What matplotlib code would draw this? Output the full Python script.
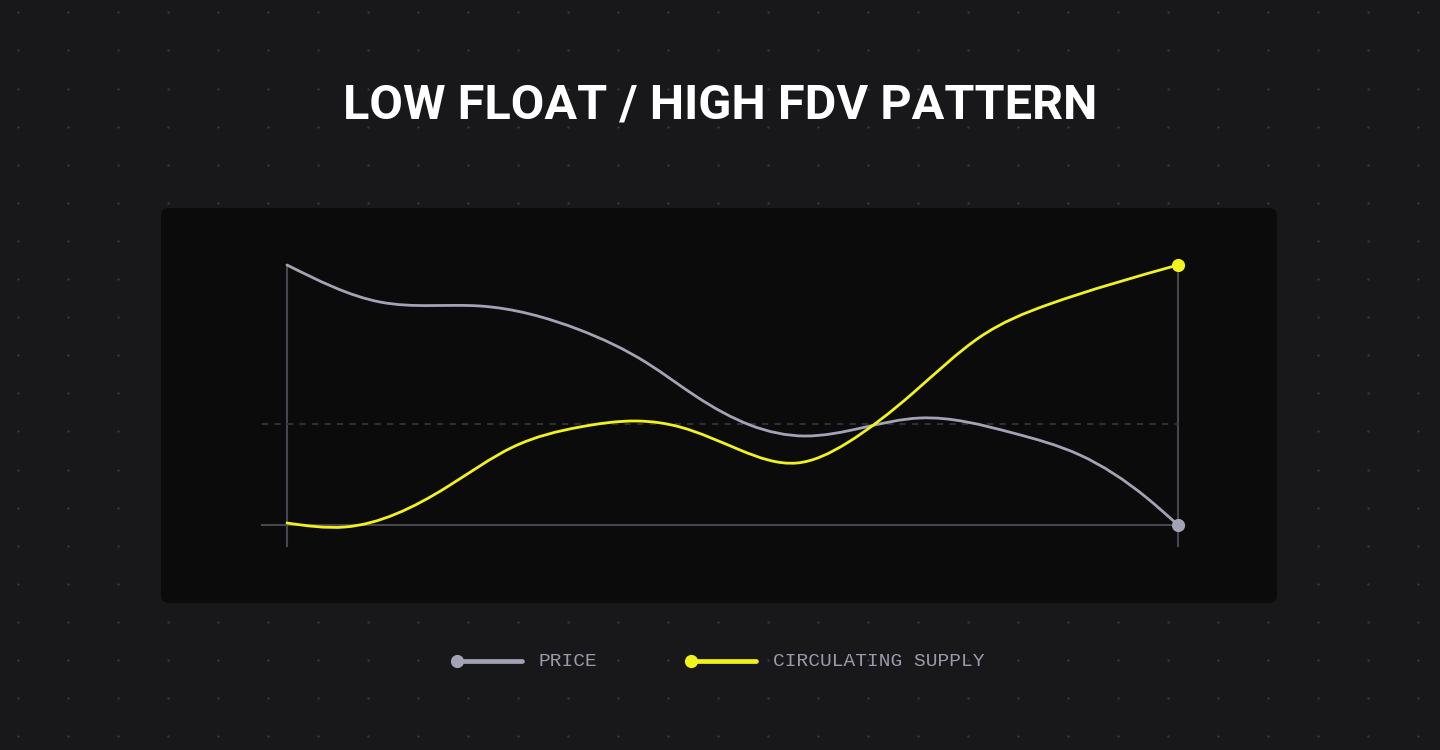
import numpy as np
import matplotlib
matplotlib.use("Agg")
import matplotlib.pyplot as plt
from matplotlib.path import Path
from matplotlib.patches import PathPatch, FancyBboxPatch

# ---------------- data ----------------
title = "LOW FLOAT / HIGH FDV PATTERN"
series_names = ["PRICE", "CIRCULATING SUPPLY"]

price_x = [0, 10.44, 21.66, 32.88, 40.40, 46.02, 51.96, 58.14, 71.04, 81.48, 88.99, 96.52, 100]
price_y = [100, 85.77, 84.23, 75.0, 62.31, 49.23, 38.46, 34.23, 41.15, 35.38, 26.92, 10.38, 0]

supply_x = [0, 6.51, 17.96, 25.36, 32.88, 39.28, 44.11, 50.84, 57.24, 62.85, 70.26, 77.78, 85.30, 100]
supply_y = [0.77, -0.77, 14.62, 30.0, 37.69, 40.0, 37.69, 28.85, 23.85, 31.54, 50.77, 72.31, 84.62, 100]

midline_y = 38.8

# ---------------- style ----------------
BG = "#18181b"
PANEL = "#0b0b0c"
DOT = "#36363c"
AXIS = "#46464f"
PRICE_C = "#a3a3b6"
SUPPLY_C = "#f2f21c"
TEXT_C = "#9a9aaa"

W, H = 1440, 750
fig = plt.figure(figsize=(W / 100, H / 100), dpi=100)
fig.patch.set_facecolor(BG)

# background / decoration axes in pixel coordinates
bg = fig.add_axes([0, 0, 1, 1])
bg.set_xlim(0, W)
bg.set_ylim(H, 0)
bg.axis("off")

dx = np.arange(18.3, W, 50.0)
dy = np.arange(12.3, H, 38.1)
gx, gy = np.meshgrid(dx, dy)
bg.scatter(gx.ravel(), gy.ravel(), s=3.0, color=DOT, linewidths=0, zorder=1)

panel = FancyBboxPatch((161 + 8, 208 + 8), 1277 - 161 - 16, 603 - 208 - 16,
                       boxstyle="round,pad=8", facecolor=PANEL, edgecolor="none", zorder=2)
bg.add_patch(panel)

bg.text(720, 106, title, ha="center", va="center", color="white",
        fontsize=35, fontweight="bold", family=["Roboto", "DejaVu Sans"], zorder=3)

# legend
legend_items = [(457, 522, 539, PRICE_C, series_names[0]),
                (691, 756, 773, SUPPLY_C, series_names[1])]
for x0, x1, tx, c, name in legend_items:
    bg.plot([x0, x1], [661, 661], color=c, lw=3.4, solid_capstyle="round", zorder=3)
    bg.plot([x0], [661], "o", color=c, markersize=9.5, markeredgewidth=0, zorder=4)
    bg.text(tx, 662, name, ha="left", va="center", color=TEXT_C, fontsize=14,
            family=["Liberation Mono", "DejaVu Sans Mono"], zorder=3)

# chart axes in data coordinates
L, R, T, B = 287, 1178, 265, 525
ax = fig.add_axes([L / W, 1 - B / H, (R - L) / W, (B - T) / H])
ax.set_xlim(0, 100)
ax.set_ylim(0, 100)
ax.axis("off")
ax.patch.set_alpha(0)

x_ext = (262 - L) / (R - L) * 100
y_ext = (B - 546) / (B - T) * 100
ax.plot([0, 0], [y_ext, 100], color=AXIS, lw=1.5, clip_on=False, zorder=1)
ax.plot([100, 100], [y_ext, 100], color=AXIS, lw=1.5, clip_on=False, zorder=1)
ax.plot([x_ext, 100], [0, 0], color=AXIS, lw=1.5, clip_on=False, zorder=1)
ax.plot([x_ext, 100], [midline_y, midline_y], color="#2e2e34", lw=1.5,
        linestyle=(0, (3, 3)), clip_on=False, zorder=1)


def natural_spline_path(xs, ys):
    """Natural cubic spline through the points, expressed as Bezier segments."""
    x = np.asarray(xs, float)
    y = np.asarray(ys, float)
    n = len(x)
    h = np.diff(x)
    s = np.diff(y) / h
    A = np.zeros((n, n))
    rhs = np.zeros(n)
    A[0, 0] = A[-1, -1] = 1.0
    for i in range(1, n - 1):
        A[i, i - 1] = h[i - 1]
        A[i, i] = 2 * (h[i - 1] + h[i])
        A[i, i + 1] = h[i]
        rhs[i] = 6 * (s[i] - s[i - 1])
    M = np.linalg.solve(A, rhs)
    verts = [(x[0], y[0])]
    codes = [Path.MOVETO]
    for i in range(n - 1):
        d0 = s[i] - h[i] * (2 * M[i] + M[i + 1]) / 6
        d1 = s[i] + h[i] * (M[i] + 2 * M[i + 1]) / 6
        k = h[i] / 3
        verts += [(x[i] + k, y[i] + d0 * k), (x[i + 1] - k, y[i + 1] - d1 * k), (x[i + 1], y[i + 1])]
        codes += [Path.CURVE4] * 3
    return Path(verts, codes)


for xs, ys, c, lw in [(price_x, price_y, PRICE_C, 2.0), (supply_x, supply_y, SUPPLY_C, 2.0)]:
    ax.add_patch(PathPatch(natural_spline_path(xs, ys), facecolor="none", edgecolor=c, lw=lw,
                           capstyle="round", joinstyle="round", clip_on=False, zorder=3))
    ax.plot([xs[-1]], [ys[-1]], "o", color=c, markersize=9.5, markeredgewidth=0,
            clip_on=False, zorder=4)

fig.savefig("out.png", dpi=100, facecolor=BG)
